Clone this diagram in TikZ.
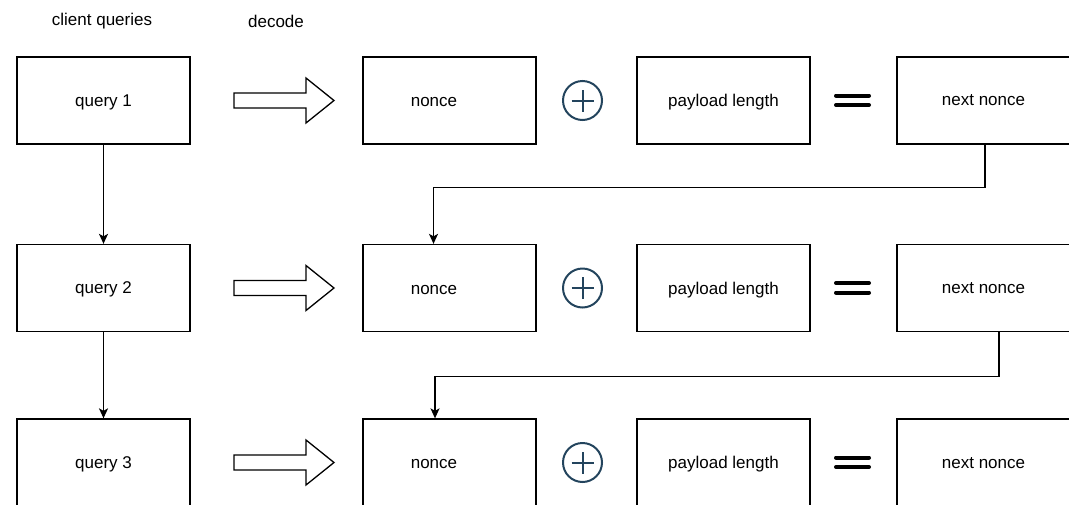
\documentclass[tikz,border=0pt]{standalone}
\usepackage{fontspec}
\setmainfont{Liberation Sans}
\usetikzlibrary{arrows.meta}

\definecolor{opblue}{HTML}{23445D}

\tikzset{
	box/.style={draw, line width=1.3pt, minimum width=173pt, minimum height=87pt, text depth=0pt, font=\fontsize{17}{20}\selectfont},
	lbl/.style={font=\fontsize{17}{20}\selectfont},
	link/.style={line width=1.3pt, -{Stealth[length=10pt, width=9pt, inset=2.5pt]}},
	opcirc/.style={circle, draw=opblue, line width=2pt, minimum size=39pt, inner sep=0pt}
}

\begin{document}
\begin{tikzpicture}[x=1pt, y=-1pt]
	\path[use as bounding box, clip] (0,0) rectangle (1069,504);

	\node[lbl] (head1) at (102,21) {client queries};
	\node[lbl] (head2) at (276,21) {decode};

	\foreach \i/\y in {1/100.5, 2/288, 3/462.5} {
		\node[box] (q\i) at (103.5,\y) {query \i};
		\node[box, label={[lbl, text depth=0pt, xshift=-15.5pt, yshift=-1.5pt]center:nonce}] (n\i) at (449.5,\y) {};
		\node[box] (l\i) at (723.5,\y) {payload length};
		\node[box] (x\i) at (983.5,\y) {next nonce};

		% hollow decode arrow
		\draw[line width=1.3pt, line join=miter] (234,\y-7.5) -- (306,\y-7.5) -- (306,\y-22.5) -- (334,\y)
			-- (306,\y+22.5) -- (306,\y+7.5) -- (234,\y+7.5) -- cycle;

		% plus
		\node[opcirc] (p\i) at (582.5,\y) {};
		\draw[opblue, line width=2pt] ([xshift=-11pt]p\i.center) -- ([xshift=11pt]p\i.center);
		\draw[opblue, line width=2pt] ([yshift=-11pt]p\i.center) -- ([yshift=11pt]p\i.center);

		% equals
		\draw[line width=4pt, line cap=round] (836,\y-5) -- (869,\y-5);
		\draw[line width=4pt, line cap=round] (836,\y+4.5) -- (869,\y+4.5);
	}

	\draw[link] (q1.south) -- (q2.north);
	\draw[link] (q2.south) -- (q3.north);

	\draw[link] ([xshift=1.5pt]x1.south) -- ++(0,42.5) -| ([xshift=-16pt]n2.north);
	\draw[link] ([xshift=15.5pt]x2.south) -- ++(0,44) -| ([xshift=-14.5pt]n3.north);
\end{tikzpicture}
\end{document}
